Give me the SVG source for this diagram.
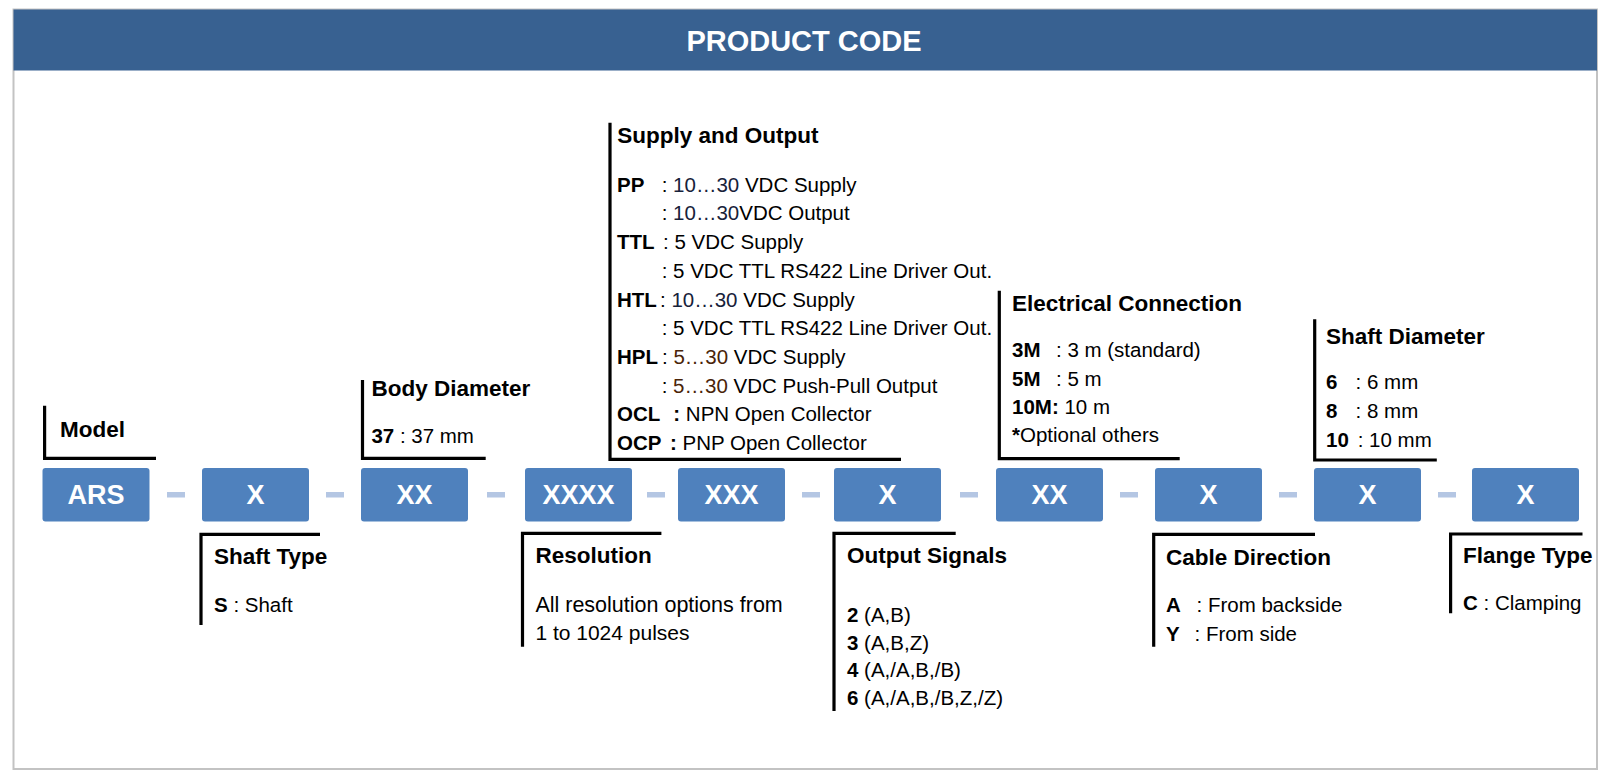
<svg xmlns="http://www.w3.org/2000/svg" width="1610" height="782" viewBox="0 0 1610 782">
<style>
text{font-family:"Liberation Sans",Arial,sans-serif;fill:#000}
.t{font-size:22.5px;font-weight:bold}
.r{font-size:20.5px}
.b{font-weight:bold}
.box{fill:#4f81bd}
.bt{font-size:27px;font-weight:bold;fill:#fff;text-anchor:middle}
.dash{fill:#b4c6e3}
.br{fill:none;stroke:#000;stroke-width:3.2;stroke-linejoin:miter}
.n{fill:#17223a}
.o{fill:#4a2408}
</style>
<rect x="13.5" y="9.5" width="1583.5" height="759.5" fill="#fff" stroke="#c3c3c3" stroke-width="2"/>
<rect x="13.5" y="9.5" width="1583.5" height="61" fill="#386191"/>
<text x="804" y="51" text-anchor="middle" style="font-size:29px;font-weight:bold;fill:#fff">PRODUCT CODE</text>

<g id="connectors">
<rect class="dash" x="167" y="492" width="18" height="5.5"/>
<rect class="dash" x="326" y="492" width="18" height="5.5"/>
<rect class="dash" x="487" y="492" width="18" height="5.5"/>
<rect class="dash" x="647" y="492" width="18" height="5.5"/>
<rect class="dash" x="802" y="492" width="18" height="5.5"/>
<rect class="dash" x="960" y="492" width="18" height="5.5"/>
<rect class="dash" x="1120" y="492" width="18" height="5.5"/>
<rect class="dash" x="1279" y="492" width="18" height="5.5"/>
<rect class="dash" x="1438" y="492" width="18" height="5.5"/>
<path class="br" d="M44.6,405.7 V458.3 H156"/>
<path class="br" d="M362.5,380 V458.3 H485.7"/>
<path class="br" d="M610,122.7 V459.3 H901"/>
<path class="br" d="M999.3,290.7 V458.7 H1179.7"/>
<path class="br" d="M1314.7,319.3 V460 H1436.8"/>
<path class="br" d="M201,625 V534.3 H320"/>
<path class="br" d="M522.5,646.7 V533.3 H661.4"/>
<path class="br" d="M834,711 V533.3 H955.7"/>
<path class="br" d="M1153.7,646.7 V534.3 H1315"/>
<path class="br" d="M1450.6,613.3 V534 H1582.5"/>
</g>

<g id="box-ars"><rect class="box" x="42.5" y="468" width="107" height="53.5" rx="3"/><text class="bt" x="96" y="504">ARS</text></g>
<g id="box-shaft-type"><rect class="box" x="202" y="468" width="107" height="53.5" rx="3"/><text class="bt" x="255.5" y="504">X</text></g>
<g id="box-body"><rect class="box" x="361" y="468" width="107" height="53.5" rx="3"/><text class="bt" x="414.5" y="504">XX</text></g>
<g id="box-resolution"><rect class="box" x="525" y="468" width="107" height="53.5" rx="3"/><text class="bt" x="578.5" y="504">XXXX</text></g>
<g id="box-supply"><rect class="box" x="678" y="468" width="107" height="53.5" rx="3"/><text class="bt" x="731.5" y="504">XXX</text></g>
<g id="box-output"><rect class="box" x="834" y="468" width="107" height="53.5" rx="3"/><text class="bt" x="887.5" y="504">X</text></g>
<g id="box-electrical"><rect class="box" x="996" y="468" width="107" height="53.5" rx="3"/><text class="bt" x="1049.5" y="504">XX</text></g>
<g id="box-cable"><rect class="box" x="1155" y="468" width="107" height="53.5" rx="3"/><text class="bt" x="1208.5" y="504">X</text></g>
<g id="box-shaft-dia"><rect class="box" x="1314" y="468" width="107" height="53.5" rx="3"/><text class="bt" x="1367.5" y="504">X</text></g>
<g id="box-flange"><rect class="box" x="1472" y="468" width="107" height="53.5" rx="3"/><text class="bt" x="1525.5" y="504">X</text></g>

<g id="label-model"><text class="t" x="60" y="436.7">Model</text></g>

<g id="label-body">
<text class="t" x="371.4" y="396">Body Diameter</text>
<text class="r" x="371.4" y="443.3"><tspan class="b">37</tspan> : 37 mm</text>
</g>

<g id="label-supply">
<text class="t" x="617.3" y="143.3">Supply and Output</text>
<text class="r b" x="617" y="191.7">PP</text><text class="r" x="661.7" y="191.7">: <tspan class="n">10…30</tspan> VDC Supply</text>
<text class="r" x="661.7" y="220.4">: <tspan class="n">10…30</tspan>VDC Output</text>
<text class="r b" x="617" y="249.1">TTL</text><text class="r" x="663" y="249.1">: 5 VDC Supply</text>
<text class="r" x="661.7" y="277.8">: 5 VDC TTL RS422 Line Driver Out.</text>
<text class="r b" x="617" y="306.5">HTL</text><text class="r" x="660" y="306.5">: <tspan class="n">10…30</tspan> VDC Supply</text>
<text class="r" x="661.7" y="335.2">: 5 VDC TTL RS422 Line Driver Out.</text>
<text class="r b" x="617" y="363.9">HPL</text><text class="r" x="662" y="363.9">: <tspan class="o">5…30</tspan> VDC Supply</text>
<text class="r" x="661.7" y="392.6">: <tspan class="o">5…30</tspan> VDC Push-Pull Output</text>
<text class="r b" x="617" y="421.3">OCL</text><text class="r" x="673.3" y="421.3"><tspan class="b">:</tspan> NPN Open Collector</text>
<text class="r b" x="617" y="450">OCP</text><text class="r" x="670" y="450"><tspan class="b">:</tspan> PNP Open Collector</text>
</g>

<g id="label-electrical">
<text class="t" x="1012" y="310.7">Electrical Connection</text>
<text class="r b" x="1012" y="357.3">3M</text><text class="r" x="1056" y="357.3">: 3 m (standard)</text>
<text class="r b" x="1012" y="385.5">5M</text><text class="r" x="1056" y="385.5">: 5 m</text>
<text class="r" x="1012" y="413.8"><tspan class="b">10M:</tspan> 10 m</text>
<text class="r" x="1012" y="442"><tspan class="b">*</tspan>Optional others</text>
</g>

<g id="label-shaft-dia">
<text class="t" x="1326" y="344">Shaft Diameter</text>
<text class="r b" x="1326" y="389.3">6</text><text class="r" x="1355.6" y="389.3">: 6 mm</text>
<text class="r b" x="1326" y="418">8</text><text class="r" x="1355.6" y="418">: 8 mm</text>
<text class="r b" x="1326" y="446.7">10</text><text class="r" x="1357.7" y="446.7">: 10 mm</text>
</g>

<g id="label-shaft-type">
<text class="t" x="214" y="564.3">Shaft Type</text>
<text class="r" x="214" y="611.7"><tspan class="b">S</tspan> : Shaft</text>
</g>

<g id="label-resolution">
<text class="t" x="535.4" y="563.3">Resolution</text>
<text class="r" x="535.4" y="611.7" style="font-size:21.5px">All resolution options from</text>
<text class="r" x="535.4" y="640" style="font-size:21px">1 to 1024 pulses</text>
</g>

<g id="label-output">
<text class="t" x="847" y="563.3">Output Signals</text>
<text class="r" x="847" y="621.7"><tspan class="b">2</tspan> (A,B)</text>
<text class="r" x="847" y="649.5"><tspan class="b">3</tspan> (A,B,Z)</text>
<text class="r" x="847" y="677.3"><tspan class="b">4</tspan> (A,/A,B,/B)</text>
<text class="r" x="847" y="705"><tspan class="b">6</tspan> (A,/A,B,/B,Z,/Z)</text>
</g>

<g id="label-cable">
<text class="t" x="1166" y="565">Cable Direction</text>
<text class="r b" x="1166" y="611.7">A</text><text class="r" x="1196.5" y="611.7">: From backside</text>
<text class="r b" x="1166" y="640.7">Y</text><text class="r" x="1194.5" y="640.7">: From side</text>
</g>

<g id="label-flange">
<text class="t" x="1463" y="562.7">Flange Type</text>
<text class="r" x="1463" y="610"><tspan class="b">C</tspan> : Clamping</text>
</g>
</svg>
